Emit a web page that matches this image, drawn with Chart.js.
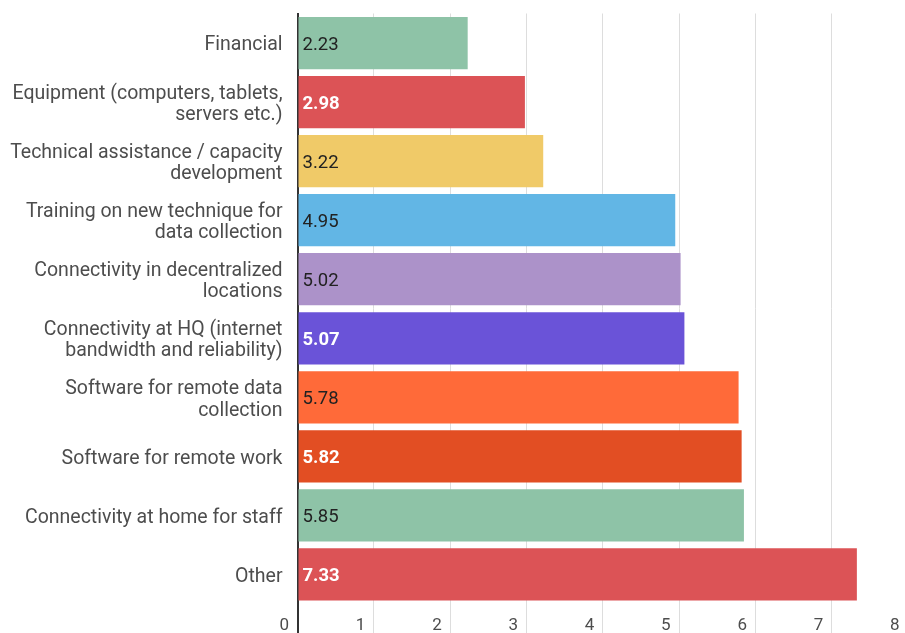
<!DOCTYPE html>
<html>
<head>
<meta charset="utf-8">
<script src="https://cdn.jsdelivr.net/npm/chart.js@4/dist/chart.umd.min.js"></script>
<style>
  html, body { margin: 0; padding: 0; background: #fff; overflow: hidden; width: 905px; height: 633px; }
  canvas { display: block; }
</style>
</head>
<body>
<canvas id="c" width="920" height="633"></canvas>
<script>
const categories = [
  ["Financial"],
  ["Equipment (computers, tablets,", "servers etc.)"],
  ["Technical assistance / capacity", "development"],
  ["Training on new technique for", "data collection"],
  ["Connectivity in decentralized", "locations"],
  ["Connectivity at HQ (internet", "bandwidth and reliability)"],
  ["Software for remote data", "collection"],
  ["Software for remote work"],
  ["Connectivity at home for staff"],
  ["Other"]
];
const values = [2.23, 2.98, 3.22, 4.95, 5.02, 5.07, 5.78, 5.82, 5.85, 7.33];
const barColors = ["#8ec3a7", "#dc5356", "#f0ca68", "#62b6e5", "#ac92c9", "#6a53d8", "#ff6a39", "#e24e23", "#8ec3a7", "#dc5356"];
const labelOnDark = [false, true, false, false, false, true, false, true, false, true];
const xTicks = [0, 1, 2, 3, 4, 5, 6, 7, 8];

const valueLabels = {
  id: 'valueLabels',
  afterDatasetsDraw(chart) {
    const ctx = chart.ctx;
    const meta = chart.getDatasetMeta(0);
    ctx.save();
    ctx.textAlign = 'left';
    ctx.textBaseline = 'middle';
    meta.data.forEach((bar, i) => {
      const dark = labelOnDark[i];
      ctx.font = (dark ? 'bold ' : '') + '18.5px Roboto';
      ctx.fillStyle = dark ? '#ffffff' : '#222222';
      ctx.fillText(values[i].toFixed(2), bar.base + 4, bar.y + 2);
    });
    ctx.restore();
  }
};

new Chart(document.getElementById('c'), {
  type: 'bar',
  data: {
    labels: categories,
    datasets: [{
      data: values,
      backgroundColor: barColors,
      borderWidth: 0,
      barPercentage: 0.885,
      categoryPercentage: 1.0
    }]
  },
  options: {
    indexAxis: 'y',
    responsive: false,
    animation: false,
    layout: { padding: { top: 13.5, right: 12, left: 0, bottom: 0 } },
    plugins: { legend: { display: false }, tooltip: { enabled: false }, title: { display: false } },
    scales: {
      x: {
        min: 0, max: 8,
        afterBuildTicks(scale) { scale.ticks = xTicks.map(v => ({ value: v })); },
        afterFit(scale) { scale.height = 29; scale.paddingLeft = 0; scale.paddingRight = 0; },
        border: { display: false },
        grid: {
          color: (c) => (c.tick && c.tick.value === 0) ? '#333333' : '#dddddd',
          lineWidth: (c) => (c.tick && c.tick.value === 0) ? 2 : 1,
          drawTicks: true,
          tickLength: 29
        },
        ticks: {
          align: 'end',
          padding: -17,
          color: '#4d4d4d',
          font: { family: 'Roboto', size: 17 },
          callback: (v) => v + '  '
        }
      },
      y: {
        z: 1,
        afterFit(scale) { scale.width = 297.5; scale.paddingTop = 0; scale.paddingBottom = 0; },
        grid: { display: false, drawTicks: false },
        border: { display: true, color: '#333333', width: 2 },
        ticks: {
          padding: 15,
          labelOffset: 2.5,
          color: '#4d4d4d',
          font: { family: 'Roboto', size: 19.5, lineHeight: 1.11 }
        }
      }
    }
  },
  plugins: [valueLabels]
});
</script>
</body>
</html>
